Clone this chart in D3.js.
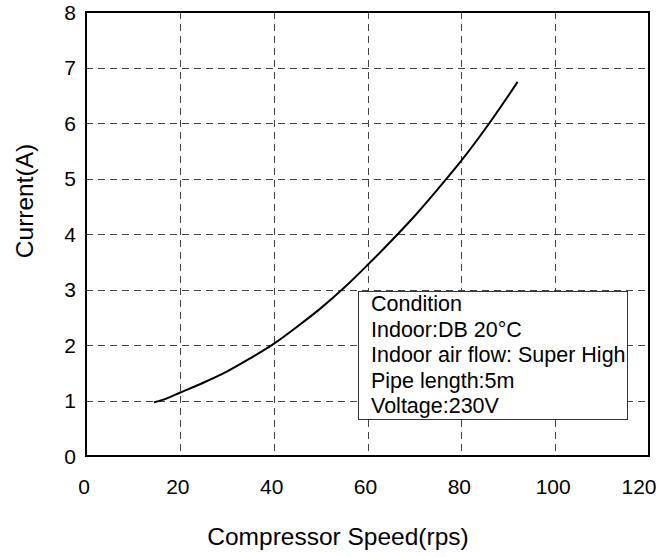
<!DOCTYPE html>
<html><head><meta charset="utf-8">
<script src="https://cdn.jsdelivr.net/npm/d3@7"></script>
<style>body{margin:0;background:#fff}svg{display:block}text{font-family:"Liberation Sans",Arial,sans-serif}</style>
</head><body>
<script>
const speeds  = [14.5, 17, 20, 25, 30, 35, 40, 45, 50, 55, 60, 65, 70, 75, 80, 86, 92];
const current = [0.97, 1.03, 1.14, 1.32, 1.52, 1.76, 2.02, 2.33, 2.66, 3.03, 3.44, 3.87, 4.32, 4.81, 5.32, 6.0, 6.74];
const xTicks = [0, 20, 40, 60, 80, 100, 120];
const yTicks = [0, 1, 2, 3, 4, 5, 6, 7, 8];
const conditionLines = ["Condition", "Indoor:DB 20°C", "Indoor air flow: Super High", "Pipe length:5m", "Voltage:230V"];
const xTitle = "Compressor Speed(rps)";
const yTitle = "Current(A)";

const W = 672, H = 557;
const L = 86, R = 649, T = 12, B = 456;
const svg = d3.select("body").append("svg").attr("width", W).attr("height", H);
const x = d3.scaleLinear().domain([0, 120]).range([L, R]);
const y = d3.scaleLinear().domain([0, 8]).range([B, T]);

// grid
const g = svg.append("g");
g.selectAll(".vg").data(xTicks.slice(1, -1)).enter().append("line")
  .attr("x1", d => Math.round(x(d)) + 0.5).attr("x2", d => Math.round(x(d)) + 0.5)
  .attr("y1", T).attr("y2", B)
  .attr("stroke", "#444").attr("stroke-width", 1).attr("stroke-dasharray", "7,5");
g.selectAll(".hg").data(yTicks.slice(1, -1)).enter().append("line")
  .attr("y1", d => Math.round(y(d)) + 0.5).attr("y2", d => Math.round(y(d)) + 0.5)
  .attr("x1", L).attr("x2", R)
  .attr("stroke", "#444").attr("stroke-width", 1).attr("stroke-dasharray", "7,5");

// curve
const line = d3.line().x((d, i) => x(speeds[i])).y((d, i) => y(current[i])).curve(d3.curveCatmullRom.alpha(0.5));
svg.append("path").datum(current).attr("d", line).attr("fill", "none")
  .attr("stroke", "#000").attr("stroke-width", 2);

// frame
svg.append("rect").attr("x", L).attr("y", T).attr("width", R - L).attr("height", B - T)
  .attr("fill", "none").attr("stroke", "#000").attr("stroke-width", 2);

// tick labels
svg.selectAll(".xt").data(xTicks).enter().append("text")
  .attr("x", d => d === 120 ? x(d) - 10 : x(d) - 2).attr("y", 494)
  .attr("text-anchor", "middle").attr("font-size", 21).text(d => d);
svg.selectAll(".yt").data(yTicks).enter().append("text")
  .attr("x", 76).attr("y", d => y(d) + 7.5)
  .attr("text-anchor", "end").attr("font-size", 21).text(d => d);

// axis titles
svg.append("text").attr("x", 338).attr("y", 545).attr("text-anchor", "middle")
  .attr("font-size", 24.5).text(xTitle);
svg.append("text").attr("transform", "translate(33,201) rotate(-90)").attr("text-anchor", "middle")
  .attr("font-size", 24.5).text(yTitle);

// condition box
const bx = 358, by = 291, bw = 269, bh = 128;
svg.append("rect").attr("x", bx + 0.5).attr("y", by + 0.5).attr("width", bw).attr("height", bh)
  .attr("fill", "#fff").attr("stroke", "#333").attr("stroke-width", 1);
svg.selectAll(".cl").data(conditionLines).enter().append("text")
  .attr("x", bx + 13).attr("y", (d, i) => 311 + i * 25.6)
  .attr("font-size", 21.5).text(d => d);
</script>
</body></html>
